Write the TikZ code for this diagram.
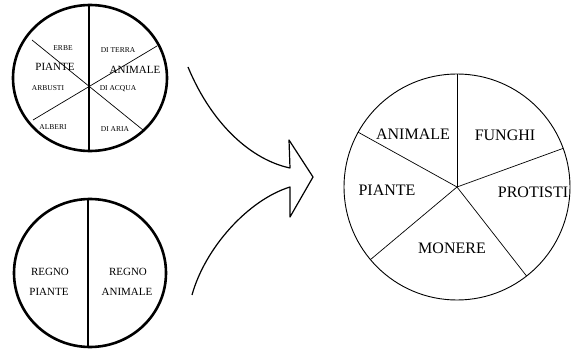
\documentclass[tikz,border=0pt]{standalone}
\usepackage{fontspec}
\setmainfont{Liberation Serif}
\begin{document}
\begin{tikzpicture}[x=1pt,y=-1pt,
  thick line/.style={line width=2.6pt},
  thin line/.style={line width=0.7pt},
  small/.style={font=\fontsize{7.5}{8}\selectfont},
  mid/.style={font=\fontsize{11}{13}\selectfont},
  big/.style={font=\fontsize{16}{18}\selectfont}]
\useasboundingbox (0,0) rectangle (571,350);
% old division, with sub-groups
\draw[thick line] (90,78) ellipse (77 and 73);
\draw[thick line] (89,5) -- (89,151);
\draw[thin line] (32,40) -- (143,130);
\draw[thin line] (157,46) -- (33,120);
\node[small] (erbe) at (63,48){ERBE};
\node[mid] (pia) at (55,67){PIANTE};
\node[small] (arb) at (48,88){ARBUSTI};
\node[small] (alb) at (53,127){ALBERI};
\node[small] (terra) at (118,50){DI TERRA};
\node[mid] (ani) at (135,70){ANIMALE};
\node[small] (acqua) at (118,89){DI ACQUA};
\node[small] (aria) at (115,129){DI ARIA};
% two kingdoms
\draw[thick line] (90,273) ellipse (76 and 74);
\draw[thick line] (88,199) -- (88,347);
\node[mid] (rp1) at (50,272){REGNO};
\node[mid] (rp2) at (49,292){PIANTE};
\node[mid] (ra1) at (128,272){REGNO};
\node[mid] (ra2) at (127,292){ANIMALE};
% the arrow
\draw[line width=1.2pt,line join=round]
  (188,67) .. controls (212,125) and (252,160) .. (290,168)
  -- (289,140) -- (313,177) -- (290,217) -- (290,187)
  .. controls (248,200) and (205,248) .. (192,295);
% five kingdoms
\draw[line width=0.9pt] (457,187) circle (113);
\foreach \a in {90,151,220,308,20}
  \draw[line width=0.7pt] (457,187) -- ++(\a:113 and -113);
\node[big] (k1) at (413,134){ANIMALE};
\node[big] (k2) at (505,135){FUNGHI};
\node[big] (k3) at (387,190){PIANTE};
\node[big] (k4) at (533,192){PROTISTI};
\node[big] (k5) at (452,248){MONERE};
\end{tikzpicture}
\end{document}
